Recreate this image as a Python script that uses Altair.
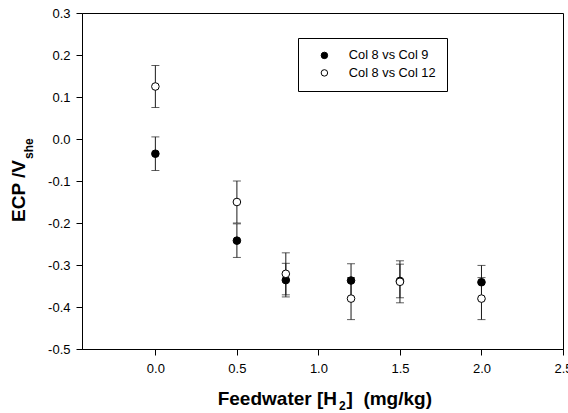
import altair as alt
import pandas as pd

# ---- data ----
x_vals = [0.0, 0.5, 0.8, 1.2, 1.5, 2.0]
col9_y = [-0.035, -0.242, -0.336, -0.337, -0.338, -0.341]
col9_err = [0.04, 0.04, 0.04, 0.04, 0.04, 0.04]
col12_y = [0.125, -0.150, -0.321, -0.380, -0.340, -0.380]
col12_err = [0.05, 0.05, 0.05, 0.05, 0.05, 0.05]
series_names = ["Col 8 vs Col 9", "Col 8 vs Col 12"]
series_fill = ["black", "white"]

x_ticks = [0.0, 0.5, 1.0, 1.5, 2.0, 2.5]
y_ticks = [-0.5, -0.4, -0.3, -0.2, -0.1, 0.0, 0.1, 0.2, 0.3]

x_title_main = ["Feedwater [H"]
x_title_sub = ["2"]
x_title_rest = ["]\u00a0\u00a0(mg/kg)"]
y_title_main = ["ECP /V"]
y_title_sub = ["she"]

rows = []
for s, ys, es in [(series_names[0], col9_y, col9_err), (series_names[1], col12_y, col12_err)]:
    for i, (xv, yv, ev) in enumerate(zip(x_vals, ys, es)):
        rows.append({"x": xv, "y": yv, "lo": yv - ev, "hi": yv + ev, "series": s,
                     "order": series_names.index(s)})
df = pd.DataFrame(rows)

FONT = "Liberation Sans"
W, H = 481, 336

xscale = alt.Scale(domain=[-0.45, 2.5], nice=False, zero=False)
yscale = alt.Scale(domain=[-0.5, 0.3], nice=False, zero=False)

lab = "(datum.value < 0 ? '-' : '') + format(abs(datum.value), '.1f')"

base = alt.Chart(df)

bars = base.mark_rule(color="#1a1a1a", strokeWidth=1).encode(
    x=alt.X("x:Q", scale=xscale,
            axis=alt.Axis(values=x_ticks, labelExpr=lab, title=None, labelFlush=False,
                          labelOverlap=False, labelPadding=7)),
    y=alt.Y("lo:Q", scale=yscale,
            axis=alt.Axis(values=y_ticks, labelExpr=lab, title=None, labelFlush=False,
                          labelOverlap=False, labelPadding=6)),
    y2="hi:Q",
)
cap_lo = base.mark_tick(orient="horizontal", size=8, thickness=1, color="#1a1a1a").encode(
    x=alt.X("x:Q", scale=xscale), y=alt.Y("lo:Q", scale=yscale))
cap_hi = base.mark_tick(orient="horizontal", size=8, thickness=1, color="#1a1a1a").encode(
    x=alt.X("x:Q", scale=xscale), y=alt.Y("hi:Q", scale=yscale))

points = base.mark_point(shape="circle", filled=True, stroke="black", strokeWidth=1,
                         size=58, opacity=1).encode(
    x=alt.X("x:Q", scale=xscale),
    y=alt.Y("y:Q", scale=yscale),
    fill=alt.Fill("series:N", scale=alt.Scale(domain=series_names, range=series_fill),
                  legend=alt.Legend(title=None, orient="none", legendX=216, legendY=25,
                                    padding=11, strokeColor="black", fillColor="white",
                                    symbolType="circle", symbolSize=42,
                                    symbolStrokeColor="black", symbolStrokeWidth=1,
                                    labelFont=FONT, labelFontSize=12.8, labelColor="black",
                                    labelOffset=18, symbolOffset=9, rowPadding=3.5,
                                    cornerRadius=0)),
    order=alt.Order("order:Q"),
)


def txt(values, x, y, size, align="left", angle=0):
    kw = dict(font=FONT, fontSize=size, fontWeight="bold", align=align,
              baseline="alphabetic", color="black")
    if angle:
        kw["angle"] = angle
    return alt.Chart(alt.Data(values=[{"t": v} for v in values])).mark_text(**kw).encode(
        text="t:N", x=alt.value(x), y=alt.value(y))


titles = [
    txt(x_title_main, 255, 392, 19, "right"),
    txt(x_title_sub, 257, 397, 12, "left"),
    txt(x_title_rest, 264.5, 392, 19, "left"),
    txt(y_title_main, -57, 147, 19, "right", 270),
    txt(y_title_sub, -49.5, 146, 12, "left", 270),
]

chart = alt.layer(bars, cap_lo, cap_hi, points, *titles).properties(
    width=W, height=H,
    autosize=alt.AutoSizeParams(type="none"),
    padding={"left": 82, "top": 13, "right": 5, "bottom": 64},
).configure_view(stroke="black", strokeWidth=1).configure_axis(
    grid=False, domainColor="black", domainWidth=1, tickColor="black", tickSize=6,
    tickWidth=1, labelFont=FONT, labelFontSize=13, labelColor="black",
).configure_legend(strokeWidth=1)

chart.save("out.html", embed_options={"renderer": "svg", "actions": False})
